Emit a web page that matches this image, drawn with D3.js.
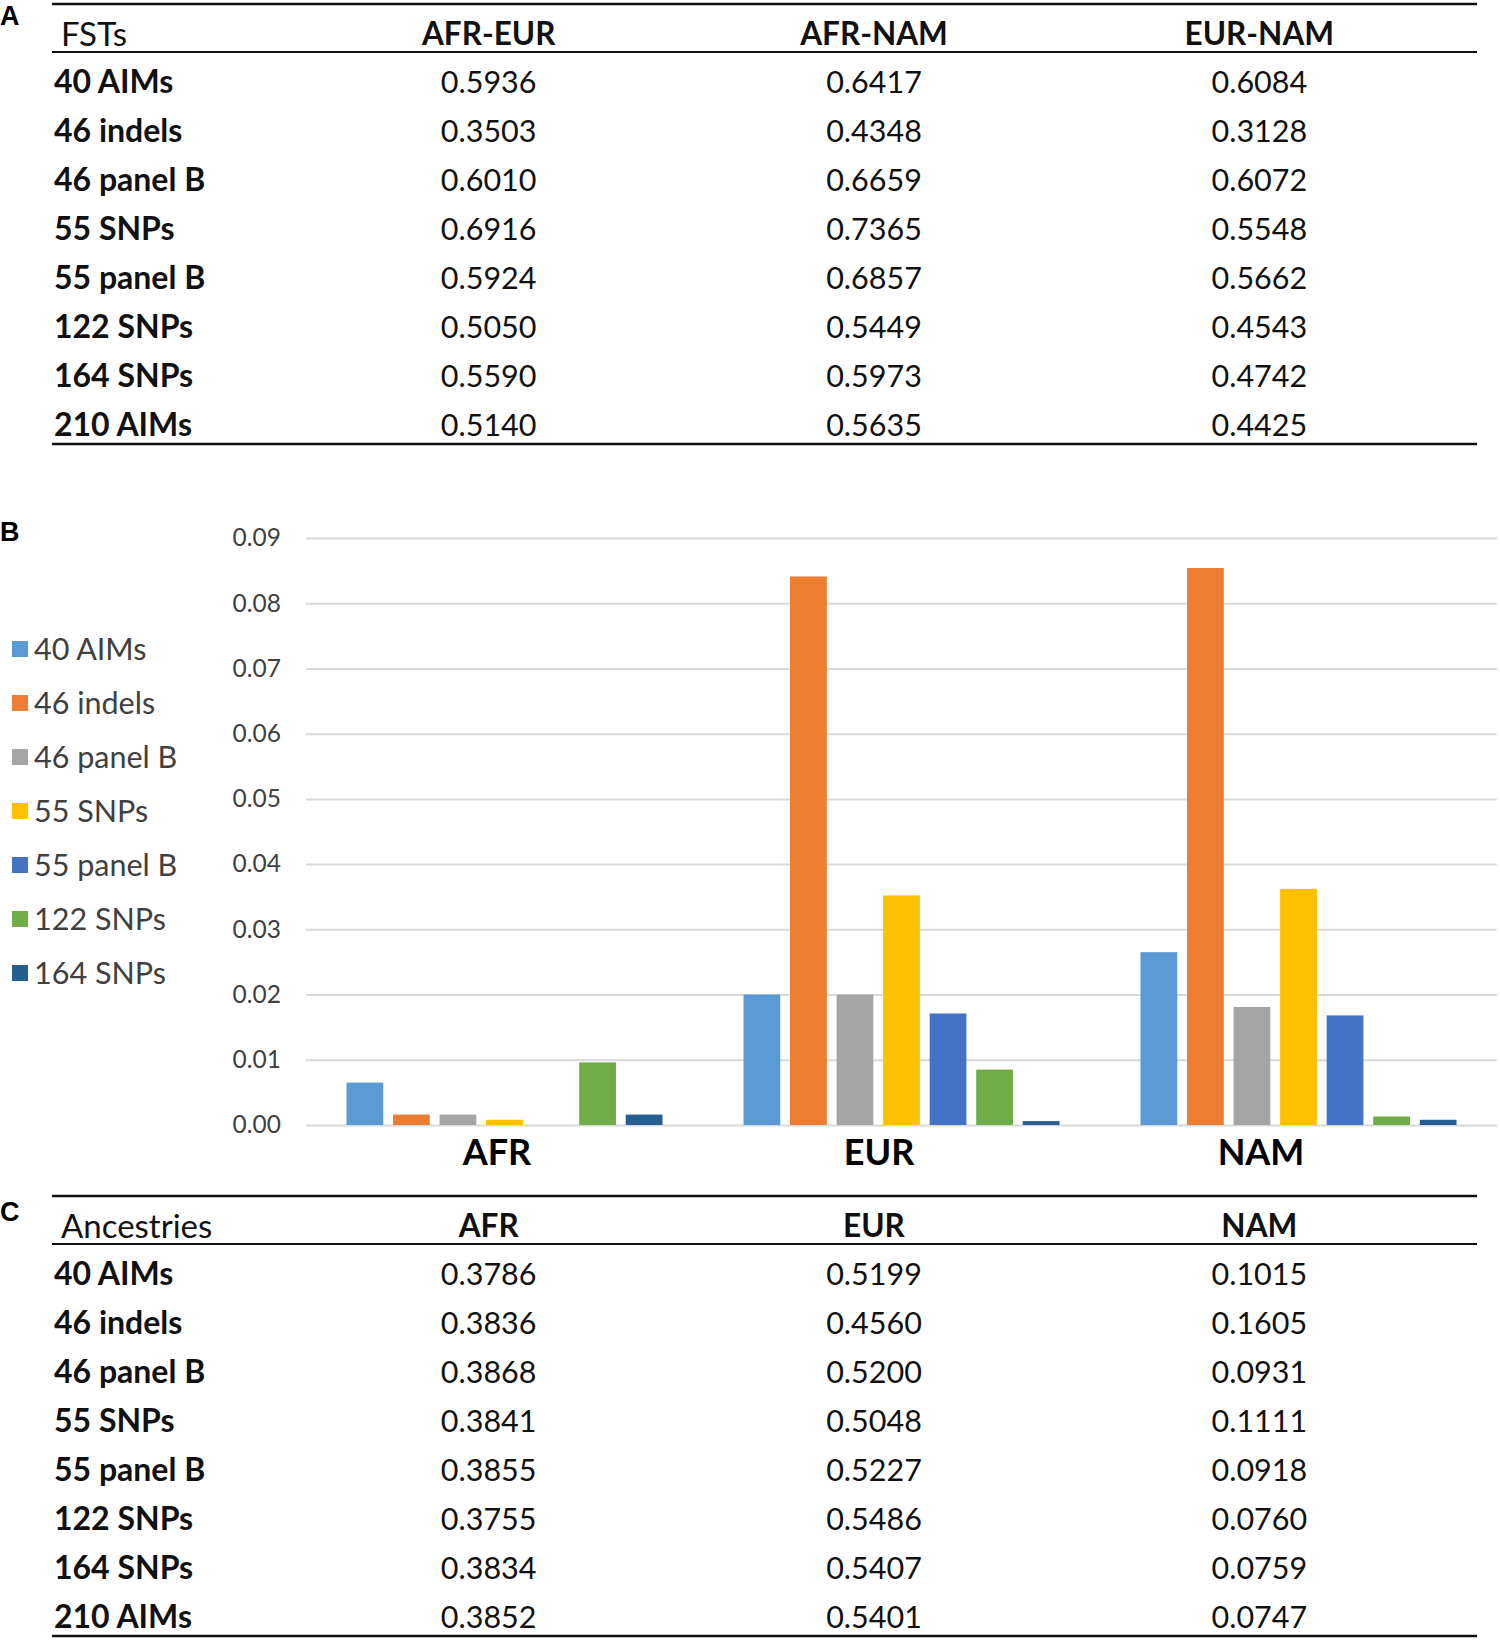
<!DOCTYPE html>
<html>
<head>
<meta charset="utf-8">
<script src="https://cdn.jsdelivr.net/npm/d3@7"></script>
<style>
  body { margin: 0; background: #fff; }
  svg { display: block; font-family: Lato, "Open Sans", sans-serif; }
</style>
</head>
<body>
<svg width="1500" height="1641"></svg>
<script>
// --- data ---
const markerSets = ["40 AIMs", "46 indels", "46 panel B", "55 SNPs", "55 panel B", "122 SNPs", "164 SNPs", "210 AIMs"];

// table A : pairwise FSTs
const fstCols = ["AFR-EUR", "AFR-NAM", "EUR-NAM"];
const fstAfrEur = ["0.5936", "0.3503", "0.6010", "0.6916", "0.5924", "0.5050", "0.5590", "0.5140"];
const fstAfrNam = ["0.6417", "0.4348", "0.6659", "0.7365", "0.6857", "0.5449", "0.5973", "0.5635"];
const fstEurNam = ["0.6084", "0.3128", "0.6072", "0.5548", "0.5662", "0.4543", "0.4742", "0.4425"];

// chart B : one bar per panel in each population
const barSeries = ["40 AIMs", "46 indels", "46 panel B", "55 SNPs", "55 panel B", "122 SNPs", "164 SNPs"];
const barColors = ["#5b9bd5", "#ed7d31", "#a5a5a5", "#ffc000", "#4472c4", "#70ad47", "#255e91"];
const populations = ["AFR", "EUR", "NAM"];
const afrBars = [0.0065, 0.0016, 0.0016, 0.0008, 0.0, 0.0096, 0.0016];
const eurBars = [0.0200, 0.0841, 0.0200, 0.0352, 0.0171, 0.0085, 0.0006];
const namBars = [0.0265, 0.0854, 0.0181, 0.0362, 0.0168, 0.0013, 0.0008];
const yTicks = [0, 0.01, 0.02, 0.03, 0.04, 0.05, 0.06, 0.07, 0.08, 0.09];

// table C : ancestry estimates
const ancCols = ["AFR", "EUR", "NAM"];
const ancAfr = ["0.3786", "0.3836", "0.3868", "0.3841", "0.3855", "0.3755", "0.3834", "0.3852"];
const ancEur = ["0.5199", "0.4560", "0.5200", "0.5048", "0.5227", "0.5486", "0.5407", "0.5401"];
const ancNam = ["0.1015", "0.1605", "0.0931", "0.1111", "0.0918", "0.0760", "0.0759", "0.0747"];

const svg = d3.select("svg");
const ink = "#111";

function panelLetter(txt, y) {
    svg.append("text")
        .attr("x", 0).attr("y", y)
        .attr("dy", "0.35em")
        .attr("font-family", "Liberation Sans, Arial, sans-serif")
        .attr("font-weight", "bold")
        .attr("font-size", 27)
        .attr("fill", "#000")
        .text(txt);
}

// a three-rule table: top rule, header rule, bottom rule
function drawTable(top, headLabel, cols, columns) {
    const g = svg.append("g");
    const left = 52, right = 1477;
    const headY = top + 30;
    const headRule = top + 48;
    const rowY = d3.scalePoint().domain(markerSets).range([top + 78, top + 421]);
    const bottom = top + 440;
    const colX = d3.scaleBand().domain(cols).range([296, 1452]);

    g.append("line").attr("x1", left).attr("x2", right).attr("y1", top).attr("y2", top)
        .attr("stroke", ink).attr("stroke-width", 2.5);
    g.append("line").attr("x1", left).attr("x2", right).attr("y1", headRule).attr("y2", headRule)
        .attr("stroke", ink).attr("stroke-width", 2);
    g.append("line").attr("x1", left).attr("x2", right).attr("y1", bottom).attr("y2", bottom)
        .attr("stroke", ink).attr("stroke-width", 2.5);

    g.append("text")
        .attr("x", left + 9).attr("y", headY).attr("dy", "0.35em")
        .attr("font-size", 33).attr("fill", ink)
        .text(headLabel);

    g.selectAll("text.colhead").data(cols).join("text")
        .attr("class", "colhead")
        .attr("x", d => colX(d) + colX.bandwidth() / 2)
        .attr("y", headY).attr("dy", "0.35em")
        .attr("text-anchor", "middle")
        .attr("font-size", 31.5).attr("font-weight", "bold").attr("fill", ink)
        .text(d => d);

    g.selectAll("text.rowhead").data(markerSets).join("text")
        .attr("class", "rowhead")
        .attr("x", left + 2).attr("y", d => rowY(d)).attr("dy", "0.35em")
        .attr("font-size", 32).attr("font-weight", "bold").attr("fill", ink)
        .text(d => d);

    columns.forEach((vals, ci) => {
        g.selectAll("text.c" + ci).data(vals).join("text")
            .attr("class", "c" + ci)
            .attr("x", colX(cols[ci]) + colX.bandwidth() / 2)
            .attr("y", (d, i) => rowY(markerSets[i])).attr("dy", "0.35em")
            .attr("text-anchor", "middle")
            .attr("font-size", 30.5).attr("fill", ink)
            .text(d => d);
    });
}

// --- A ---
panelLetter("A", 16);
drawTable(4, "FSTs", fstCols, [fstAfrEur, fstAfrNam, fstEurNam]);

// --- B ---
panelLetter("B", 532);

const plotLeft = 306, plotRight = 1497;
const y = d3.scaleLinear().domain([0, 0.09]).range([1125, 538]);
const x0 = d3.scaleBand().domain(populations).range([plotLeft, plotRight]);
const x1 = d3.scaleBand().domain(barSeries).range([0, x0.bandwidth()])
    .paddingInner(0.21).paddingOuter(0.87);
// the category names sit a little left of the bar groups, in line with table C
const xLabel = d3.scaleBand().domain(populations).range([plotLeft, 1452]);

const yAxis = svg.append("g")
    .attr("transform", `translate(${plotLeft},0)`)
    .call(d3.axisLeft(y).tickValues(yTicks).tickFormat(d3.format(".2f"))
        .tickSize(-(plotRight - plotLeft)).tickPadding(25));
yAxis.select(".domain").remove();
yAxis.selectAll(".tick line").attr("stroke", "#d9d9d9").attr("stroke-width", 2);
yAxis.selectAll(".tick text")
    .attr("font-family", "Lato, sans-serif")
    .attr("font-size", 24.5).attr("fill", "#404040");

const barData = [afrBars, eurBars, namBars];
const groups = svg.append("g").selectAll("g").data(populations).join("g")
    .attr("transform", d => `translate(${x0(d)},0)`);
groups.selectAll("rect")
    .data((d, i) => barData[i].map((v, j) => ({ s: barSeries[j], v: v, c: barColors[j] })))
    .join("rect")
    .attr("x", d => x1(d.s))
    .attr("width", x1.bandwidth())
    .attr("y", d => y(d.v))
    .attr("height", d => y(0) - y(d.v))
    .attr("fill", d => d.c);

const xAxis = svg.append("g")
    .attr("transform", `translate(0,${y(0)})`)
    .call(d3.axisBottom(xLabel).tickSize(0).tickPadding(14));
xAxis.select(".domain").remove();
xAxis.selectAll(".tick text")
    .attr("font-family", "Lato, sans-serif")
    .attr("font-size", 36).attr("font-weight", "bold").attr("fill", "#000");

// legend
const legY = d3.scalePoint().domain(barSeries).range([649, 973]);
const legend = svg.append("g").selectAll("g").data(barSeries).join("g")
    .attr("transform", d => `translate(12,${legY(d)})`);
legend.append("rect")
    .attr("x", 0).attr("y", -8).attr("width", 16).attr("height", 16)
    .attr("fill", (d, i) => barColors[i]);
legend.append("text")
    .attr("x", 22).attr("dy", "0.35em")
    .attr("font-size", 30.5).attr("fill", "#404040")
    .text(d => d);

// --- C ---
panelLetter("C", 1212);
drawTable(1196, "Ancestries", ancCols, [ancAfr, ancEur, ancNam]);
</script>
</body>
</html>
